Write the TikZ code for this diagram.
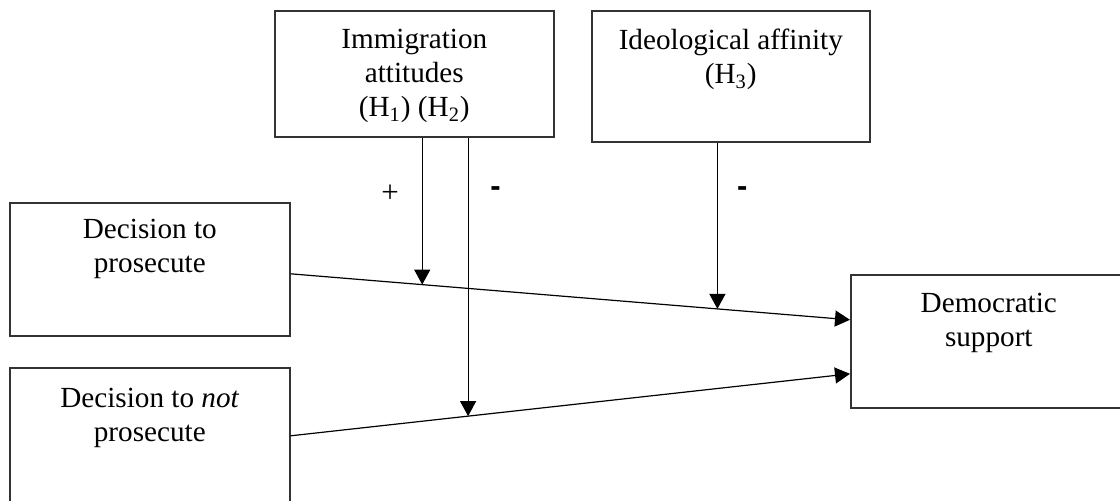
\documentclass[tikz,border=0pt]{standalone}
\usepackage{fontspec}
\setmainfont{Liberation Serif}
\newfontfamily\signfont{Liberation Sans}
\usetikzlibrary{arrows.meta}
\usetikzlibrary{calc}

\begin{document}
\begin{tikzpicture}[x=1pt,y=-1pt,
  varbox/.style={draw=black!80,line width=0.8pt,rectangle,anchor=north west,inner sep=0pt,font=\fontsize{14.6}{17}\selectfont},
  effect/.style={draw=black,line width=0.6pt,-{Triangle[length=7.5pt,width=8pt]}},
  sign/.style={font=\fontsize{15.5}{17}\selectfont,text=black,anchor=center}]
\useasboundingbox (0,0) rectangle (560,250);

% moderators
\node[varbox] (imm) at (137,5) {\parbox[c][63pt][t]{139.5pt}{\centering\rule{0pt}{19pt}Immigration\\attitudes\\(H\textsubscript{1}) (H\textsubscript{2})}};
\node[varbox] (ideo) at (295.5,5) {\parbox[c][65.5pt][t]{139pt}{\centering\rule{0pt}{19.5pt}Ideological affinity\\(H\textsubscript{3})}};

% treatments and outcome
\node[varbox] (pros) at (4.5,101) {\parbox[c][66.5pt][t]{140pt}{\centering\rule{0pt}{18pt}Decision to\\prosecute}};
\node[varbox] (notpros) at (4.5,183.5) {\parbox[c][68pt][t]{140pt}{\centering\rule{0pt}{20pt}Decision to \textit{not}\\prosecute}};
\node[varbox] (dem) at (425,137) {\parbox[c][66.5pt][t]{138pt}{\centering\rule{0pt}{19pt}Democratic\\support}};

% main effects
\draw[effect] ([yshift=-2.25pt]pros.east) -- coordinate[pos=0.2353] (m1) coordinate[pos=0.763] (m3) ([yshift=10.75pt]dem.west);
\draw[effect] (notpros.east) -- coordinate[pos=0.3173] (m2) ([yshift=-16.25pt]dem.west);

% moderation
\draw[effect] (imm.south -| m1) -- (m1);
\draw[effect] (imm.south -| m2) -- (m2);
\draw[effect] (ideo.south -| m3) -- (m3);

\node[sign] (plus) at (195,97) {+};
\node[sign] (minusa) at (247.8,95.8) {\signfont\bfseries -};
\node[sign] (minusb) at (371.2,95.8) {\signfont\bfseries -};

\end{tikzpicture}
\end{document}
